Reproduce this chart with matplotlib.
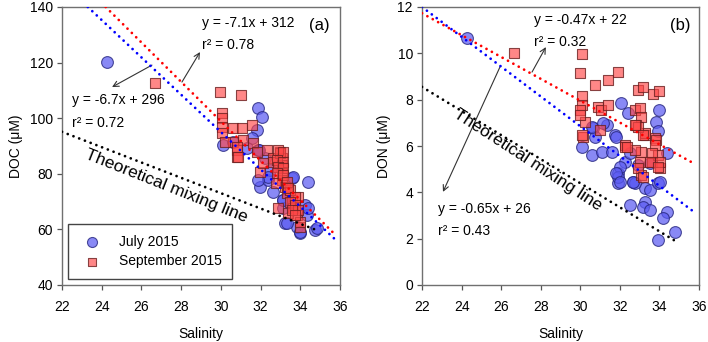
import matplotlib
matplotlib.use("Agg")
import matplotlib.pyplot as plt
import numpy as np

plt.rcParams['font.family'] = ['Liberation Sans', 'DejaVu Sans']
plt.rcParams['font.size'] = 10

# ---------------- Panel (a): DOC ----------------
doc_jul_sal = [24.25, 31.89, 32.09, 31.8, 31.55, 31.3, 31.87, 32.2, 30.12, 31.9,
               31.97, 32.39, 32.47, 33.57, 34.4, 32.64, 33.14, 34.23, 33.23, 33.98,
               34.74, 33.82, 34.32, 33.13, 30.6, 32.39, 31.89, 33.65, 34.4, 33.14,
               33.31, 33.98, 34.82]
doc_jul_val = [120.3, 103.6, 100.5, 95.8, 92.8, 89.3, 88.6, 85.7, 90.4, 88.6,
               75.4, 77.8, 81.4, 78.4, 77.2, 73.6, 70.6, 68.8, 62.2, 58.6,
               59.8, 61.0, 65.2, 67.7, 91.6, 79.0, 77.8, 79.0, 67.6, 70.6,
               62.2, 59.2, 60.4]
doc_sep_sal = [26.68, 29.96, 31.0, 30.04, 30.04, 30.04, 30.04, 30.63, 31.05, 31.55,
               31.13, 30.6, 30.8, 32.3, 32.98, 32.64, 33.06, 30.2, 30.8, 30.83,
               31.63, 30.88, 31.97, 32.14, 32.64, 32.98, 33.06, 33.06, 33.06, 33.23,
               33.31, 33.57, 33.65, 33.82, 33.98, 33.98, 32.9, 33.9, 33.4, 32.8, 33.48,
               32.89, 33.14, 32.81, 33.14, 32.89, 33.14, 32.81, 33.14, 33.31, 33.4,
               33.73, 33.48, 33.73, 33.9, 33.57, 33.73, 31.8]
doc_sep_val = [112.6, 109.5, 108.3, 101.9, 100.1, 97.0, 94.7, 96.4, 96.4, 97.6,
               92.2, 91.6, 88.6, 88.6, 88.0, 85.6, 85.6, 91.5, 89.7, 86.2,
               91.0, 85.9, 80.8, 83.8, 84.4, 87.4, 83.2, 80.2, 77.8, 75.4,
               73.0, 70.6, 67.6, 65.2, 61.0, 62.8, 67.6, 71.8, 65.8, 76.6, 74.2,
               88.6, 88.0, 85.0, 84.4, 82.6, 82.0, 80.2, 79.6, 77.2, 74.8,
               71.8, 70.0, 68.8, 67.0, 67.0, 65.2, 88.0]

# regression / mixing lines (endpoints)
doc_fit_jul_x = [23.3, 35.8]
doc_fit_jul_y = [140.0, 56.1]
doc_fit_sep_x = [24.2, 35.8]
doc_fit_sep_y = [140.0, 57.8]
doc_mix_x = [22.0, 34.8]
doc_mix_y = [95.1, 59.8]

# ---------------- Panel (b): DON ----------------
don_jul_sal = [24.29, 32.08, 32.42, 33.99, 33.82, 33.94, 30.65, 31.33, 31.75, 30.74,
               30.57, 31.08, 31.58, 31.83, 32.25, 31.91, 31.91, 32.67, 33.26, 33.52,
               33.94, 33.26, 32.5, 33.18, 33.52, 34.36, 34.19, 34.78, 33.94, 32.0,
               32.92, 33.52, 34.36, 32.5, 30.07, 30.57, 31.16, 31.92, 32.76, 31.83,
               32.0, 32.67, 34.02]
don_jul_val = [10.68, 7.84, 7.41, 7.55, 7.05, 6.66, 6.76, 6.91, 6.48, 6.4,
               5.61, 5.75, 5.75, 6.4, 5.32, 4.82, 4.39, 4.46, 4.18, 4.1,
               4.39, 3.6, 3.45, 3.38, 3.24, 3.17, 2.88, 2.3, 1.94, 5.1,
               5.18, 5.25, 5.69, 5.69, 5.97, 6.83, 6.98, 4.68, 4.39, 4.82,
               4.46, 4.46, 4.46]
don_sep_sal = [26.66, 30.1, 29.98, 30.74, 31.41, 31.91, 32.92, 33.18, 33.68, 33.99,
               30.07, 30.07, 29.98, 30.9, 31.07, 31.41, 32.76, 33.0, 33.09, 30.23,
               30.99, 32.84, 33.26, 33.77, 30.15, 30.07, 33.09, 33.0, 33.6, 33.94,
               33.85, 32.25, 33.09, 34.02, 33.26, 32.76, 32.25, 29.98, 33.77,
               32.92, 33.18, 32.34, 33.6, 33.52, 34.02, 33.94, 32.92, 33.18, 32.76]
don_sep_val = [10.0, 9.97, 9.14, 8.63, 8.85, 9.18, 8.42, 8.56, 8.25, 8.39,
               8.16, 7.77, 7.55, 7.7, 7.55, 7.77, 7.55, 7.63, 7.27, 7.05,
               6.69, 6.91, 6.48, 6.33, 6.4, 6.48, 5.75, 5.32, 5.32, 5.61,
               6.26, 6.04, 4.75, 5.04, 6.55, 5.83, 5.97, 7.34, 6.04,
               6.83, 6.48, 5.97, 5.69, 5.32, 5.32, 5.1, 5.04, 4.68, 6.91]

don_fit_jul_x = [22.0, 35.8]
don_fit_jul_y = [12.0, 3.12]
don_fit_sep_x = [22.0, 35.8]
don_fit_sep_y = [11.73, 5.22]
don_mix_x = [22.0, 34.8]
don_mix_y = [8.55, 1.9]

xticks = [22, 24, 26, 28, 30, 32, 34, 36]
doc_yticks = [40, 60, 80, 100, 120, 140]
don_yticks = [0, 2, 4, 6, 8, 10, 12]

fig = plt.figure(figsize=(7.08, 3.42), dpi=100)
axa = fig.add_axes([62/708, 57/342, 278/708, 278/342])
axb = fig.add_axes([422/708, 57/342, 277/708, 278/342])

blue_face = (0.36, 0.36, 0.95, 0.72)
blue_edge = (0.15, 0.15, 0.5, 0.8)
red_face = (1.0, 0.28, 0.28, 0.65)
red_edge = (0.42, 0.12, 0.12, 0.8)

def dotted(ax, x, y, color):
    ax.plot(x, y, color=color, lw=2.0, linestyle=(0, (0.01, 2.2)),
            dash_capstyle='round', zorder=4)

def style(ax, yticks, ylabel):
    ax.set_xlim(22, 36)
    ax.set_ylim(yticks[0], yticks[-1])
    ax.set_xticks(xticks)
    ax.set_yticks(yticks)
    for s in ax.spines.values():
        s.set_color('#707070')
        s.set_linewidth(1.0)
    ax.tick_params(direction='out', length=3.5, width=0.9, color='#555555',
                   labelsize=10, pad=3)
    ax.tick_params(axis='x', pad=7)
    ax.set_xlabel('Salinity', fontsize=10, labelpad=10)
    ax.set_ylabel(ylabel, fontsize=10, labelpad=5)

# Panel a
dotted(axa, doc_mix_x, doc_mix_y, 'black')
dotted(axa, doc_fit_jul_x, doc_fit_jul_y, '#0000ff')
dotted(axa, doc_fit_sep_x, doc_fit_sep_y, '#ff0000')
axa.scatter(doc_jul_sal, doc_jul_val, s=72, marker='o', facecolor=blue_face,
            edgecolor=blue_edge, linewidth=0.8, zorder=3, label='July 2015')
axa.scatter(doc_sep_sal, doc_sep_val, s=58, marker='s', facecolor=red_face,
            edgecolor=red_edge, linewidth=0.8, zorder=3, label='September 2015')
style(axa, doc_yticks, 'DOC (\u03bcM)')

axa.text(29.05, 134.2, 'y = -7.1x + 312', va='center', fontsize=10)
axa.text(29.05, 126.3, 'r\u00b2 = 0.78', va='center', fontsize=10)
axa.text(34.45, 133.5, '(a)', va='center', fontsize=12)
axa.text(22.5, 106.5, 'y = -6.7x + 296', va='center', fontsize=10)
axa.text(22.5, 98.3, 'r\u00b2 = 0.72', va='center', fontsize=10)
arrow = dict(arrowstyle='->', lw=0.8, color='#333333', shrinkA=0, shrinkB=0)
axa.annotate('', xy=(28.95, 123.8), xytext=(28.04, 113.0), arrowprops=arrow)
axa.annotate('', xy=(24.52, 111.2), xytext=(26.53, 119.1), arrowprops=arrow)
axa.text(27.25, 75.6, 'Theoretical mixing line', rotation=-21.7, ha='center',
         va='center', fontsize=12.5, rotation_mode='anchor')

leg = axa.legend(loc='lower left', bbox_to_anchor=(0.022, 0.022), borderaxespad=0,
                 fancybox=False, edgecolor='#444444', framealpha=1, fontsize=10,
                 handlelength=2.0, handletextpad=0.9, borderpad=0.75,
                 labelspacing=0.4, markerscale=0.85)
leg.get_frame().set_linewidth(1.0)

# Panel b
dotted(axb, don_mix_x, don_mix_y, 'black')
dotted(axb, don_fit_jul_x, don_fit_jul_y, '#0000ff')
dotted(axb, don_fit_sep_x, don_fit_sep_y, '#ff0000')
axb.scatter(don_jul_sal, don_jul_val, s=72, marker='o', facecolor=blue_face,
            edgecolor=blue_edge, linewidth=0.8, zorder=3)
axb.scatter(don_sep_sal, don_sep_val, s=58, marker='s', facecolor=red_face,
            edgecolor=red_edge, linewidth=0.8, zorder=3)
style(axb, don_yticks, 'DON (\u03bcM)')

axb.text(27.66, 11.44, 'y = -0.47x + 22', va='center', fontsize=10)
axb.text(27.66, 10.49, 'r\u00b2 = 0.32', va='center', fontsize=10)
axb.text(34.55, 11.2, '(b)', va='center', fontsize=12)
axb.text(22.8, 3.28, 'y = -0.65x + 26', va='center', fontsize=10)
axb.text(22.8, 2.33, 'r\u00b2 = 0.43', va='center', fontsize=10)
axb.annotate('', xy=(28.26, 10.27), xytext=(27.56, 9.19), arrowprops=arrow)
axb.annotate('', xy=(23.06, 4.02), xytext=(25.94, 9.41), arrowprops=arrow)
axb.text(27.35, 5.4, 'Theoretical mixing line', rotation=-33, ha='center',
         va='center', fontsize=12.5, rotation_mode='anchor')

fig.savefig('out.png', dpi=100)
